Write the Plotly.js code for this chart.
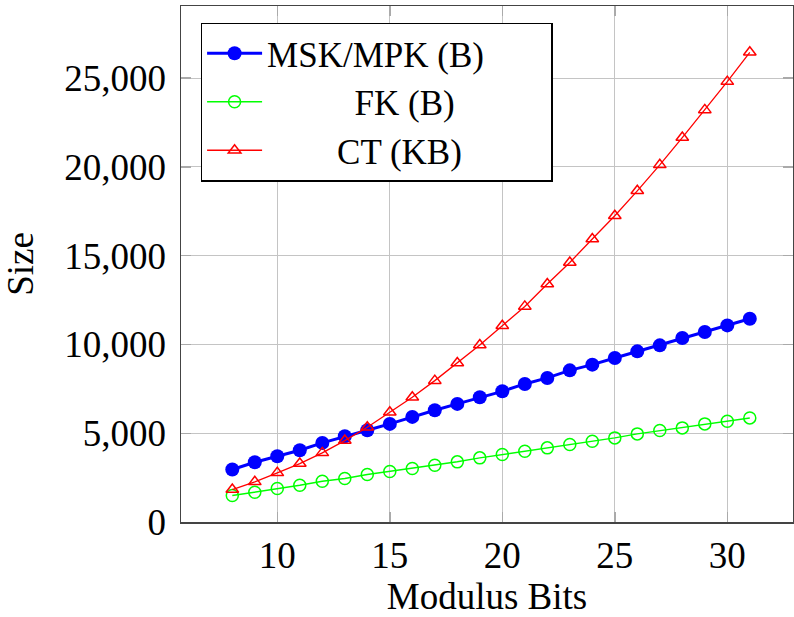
<!DOCTYPE html>
<html>
<head>
<meta charset="utf-8">
<script src="https://cdn.plot.ly/plotly-3.0.1.min.js"></script>
<style>html,body{margin:0;padding:0;background:#fff;}#chart{width:794px;height:617px;}</style>
</head>
<body>
<div id="chart"></div>
<script>
const modulusBits = [8,9,10,11,12,13,14,15,16,17,18,19,20,21,22,23,24,25,26,27,28,29,30,31];
const mskMpk = [2955,3366,3703,4041,4457,4829,5167,5527,5921,6292,6652,7024,7362,7778,8116,8544,8864,9240,9613,9951,10367,10705,11076,11453];
const fk = [1491,1677,1885,2071,2296,2448,2673,2842,3011,3197,3388,3613,3799,3985,4176,4362,4548,4739,4964,5150,5302,5527,5673,5864];
const ct = [1829,2262,2769,3292,3895,4587,5335,6180,7024,7964,8960,9970,11059,12146,13406,14622,15939,17250,18657,20120,21658,23216,24809,26461];
const seriesNames = ["MSK/MPK (B)", "FK (B)", "CT (KB)"];
const yTicks = [0,5000,10000,15000,20000,25000];
const xTicks = [10,15,20,25,30];

const FONT = "Liberation Serif, Times New Roman, serif";
const NB = "\u00A0";
// legend labels padded with non-breaking spaces so the text sits centred as in the reference
const legendLabels = [
  seriesNames[0] + NB.repeat(7),
  NB.repeat(10) + seriesNames[1],
  NB.repeat(8) + seriesNames[2]
];

const traces = [
  {x: modulusBits, y: mskMpk, name: legendLabels[0], mode: "lines+markers", type: "scatter",
   line: {color: "#0000ff", width: 3}, marker: {symbol: "circle", size: 14, color: "#0000ff"}},
  {x: modulusBits, y: fk, name: legendLabels[1], mode: "lines+markers", type: "scatter",
   line: {color: "#00ff00", width: 1.5}, marker: {symbol: "circle-open", size: 12, color: "#00ff00", line: {width: 1.5}}},
  {x: modulusBits, y: ct, name: legendLabels[2], mode: "lines+markers", type: "scatter",
   line: {color: "#ff0000", width: 1.3}, marker: {symbol: "triangle-up-open", size: 11, color: "#ff0000", line: {width: 1.5}}}
];

const layout = {
  width: 794, height: 617,
  margin: {l: 181, r: 1, t: 6, b: 95, pad: 0},
  paper_bgcolor: "#fff", plot_bgcolor: "#fff",
  font: {family: FONT, size: 37, color: "#000"},
  showlegend: true,
  hovermode: false,
  separators: ".,",
  xaxis: {
    range: [5.72, 32.92], tickvals: xTicks, ticktext: xTicks.map(String),
    showgrid: true, gridcolor: "#c4c4c4", gridwidth: 1,
    zeroline: false, showline: true, linecolor: "#444", linewidth: 1.5, mirror: "ticks",
    ticks: "inside", ticklen: 10, tickcolor: "#aaa", tickwidth: 1.5,
    tickfont: {family: FONT, size: 37}, ticklabelstandoff: 0,
    title: {text: "Modulus Bits", font: {family: FONT, size: 37}, standoff: 6}
  },
  yaxis: {
    range: [0, 29069], tickvals: yTicks, tickformat: ",d",
    showgrid: true, gridcolor: "#c4c4c4", gridwidth: 1,
    zeroline: false, showline: true, linecolor: "#444", linewidth: 1.5, mirror: "ticks",
    ticks: "inside", ticklen: 10, tickcolor: "#aaa", tickwidth: 1.5,
    tickfont: {family: FONT, size: 37}, ticklabelstandoff: 6,
    title: {text: "Size", font: {family: FONT, size: 37}, standoff: 22}
  },
  legend: {
    x: 0.032, y: 0.968, xanchor: "left", yanchor: "top",
    bgcolor: "#fff", bordercolor: "#000", borderwidth: 1.5,
    font: {family: FONT, size: 35}, itemwidth: 55, tracegroupgap: 0
  }
};

Plotly.newPlot("chart", traces, layout, {displayModeBar: false, staticPlot: true});
</script>
</body>
</html>
